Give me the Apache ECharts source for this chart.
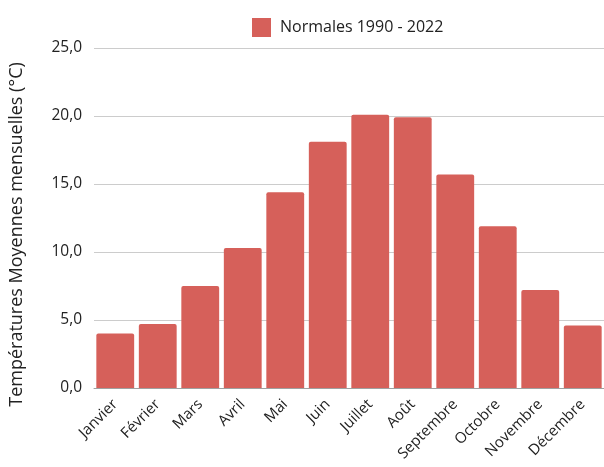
<!DOCTYPE html>
<html>
<head>
<meta charset="utf-8">
<script src="https://cdn.jsdelivr.net/npm/echarts@6/dist/echarts.min.js"></script>
<style>
  html, body { margin: 0; padding: 0; background: #fff; }
  #chart { width: 604px; height: 467px; }
</style>
</head>
<body>
<div id="chart"></div>
<script>
// mois et températures moyennes
var mois = ['Janvier', 'Février', 'Mars', 'Avril', 'Mai', 'Juin', 'Juillet', 'Août', 'Septembre', 'Octobre', 'Novembre', 'Décembre'];
var normales = [4.0, 4.7, 7.5, 10.3, 14.4, 18.1, 20.1, 19.9, 15.7, 11.9, 7.2, 4.6];
var nomSerie = 'Normales 1990 - 2022';

var myChart = echarts.init(document.getElementById('chart'));
var police = '"Open Sans", "Noto Sans", sans-serif';

option = {
    backgroundColor: '#ffffff',
    animation: false,
    textStyle: { fontFamily: police },
    legend: {
        top: 13,
        left: 247,
        itemWidth: 19,
        itemHeight: 19,
        icon: 'rect',
        data: [nomSerie],
        textStyle: { color: '#222', fontSize: 16, fontFamily: police, padding: [0, 0, 0, 4] }
    },
    grid: {
        left: 87,
        width: 524,
        top: 48,
        bottom: 79
    },
    xAxis: {
        type: 'category',
        data: mois,
        axisTick: { show: false },
        axisLine: { lineStyle: { color: '#a0a0a0' } },
        axisLabel: {
            rotate: 45,
            interval: 0,
            color: '#222',
            fontSize: 15,
            fontFamily: police,
            margin: 14
        }
    },
    yAxis: {
        type: 'value',
        min: 0,
        max: 25,
        interval: 5,
        name: 'Températures Moyennes mensuelles (°C)',
        nameLocation: 'middle',
        nameGap: 68,
        nameRotate: 90,
        nameTextStyle: { color: '#222', fontSize: 18, fontFamily: police, padding: [0, 33, 0, 0] },
        axisLine: { show: false },
        axisTick: { show: false },
        splitLine: { lineStyle: { color: '#cccccc' } },
        axisLabel: {
            color: '#222',
            fontSize: 15.5,
            fontFamily: police,
            margin: 12,
            formatter: function (v) { return v.toFixed(1).replace('.', ','); }
        }
    },
    series: [
        {
            name: nomSerie,
            type: 'bar',
            data: normales,
            barCategoryGap: '11%',
            itemStyle: {
                color: '#d6605a',
                borderRadius: [2, 2, 0, 0]
            }
        }
    ]
};
myChart.setOption(option);
</script>
</body>
</html>
